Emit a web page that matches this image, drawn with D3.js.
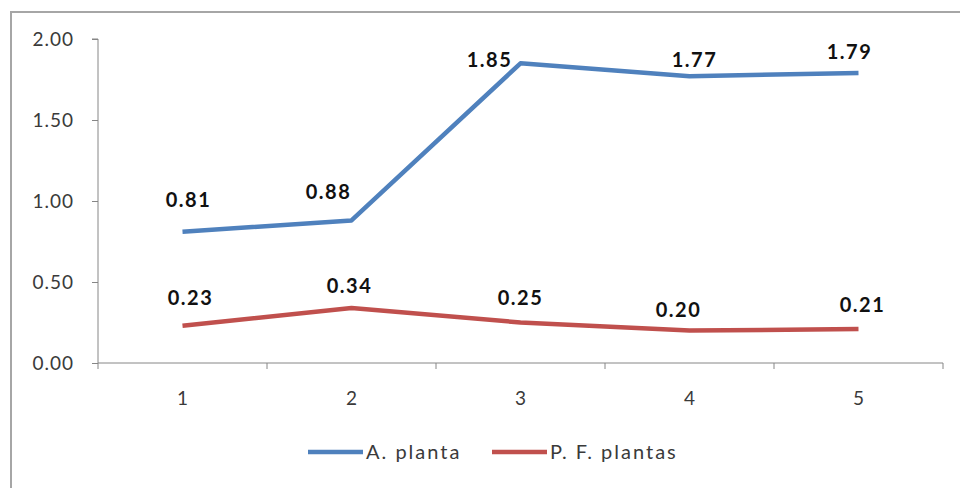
<!DOCTYPE html>
<html><head><meta charset="utf-8">
<script src="https://cdn.jsdelivr.net/npm/d3@7"></script>
<style>body{margin:0;background:#fff}svg{display:block}</style>
</head><body>
<svg id="c" width="960" height="488"></svg>
<script>
const categories = ["1","2","3","4","5"];
const aPlanta = [0.81, 0.88, 1.85, 1.77, 1.79];
const pfPlantas = [0.23, 0.34, 0.25, 0.20, 0.21];
const yTicks = [0, 0.5, 1.0, 1.5, 2.0];
const seriesNames = ["A. planta", "P. F. plantas"];
const colors = ["#4F81BD", "#C0504D"];
// label nudges (dx, dy) in px, style config
const aLabelNudge = [[6,-25],[-23,-21],[-31,4],[5,-9],[-9,-14]];
const pLabelNudge = [[8,-21],[-2,-15],[0,-18],[-11,-14],[4,-17]];

(function(){
const svg = d3.select("#c");
const font = "Lato, 'Open Sans', sans-serif";

svg.append("rect").attr("x",11).attr("y",12).attr("width",960).attr("height",490)
  .attr("fill","#fff").attr("stroke","#a6a6a6").attr("stroke-width",2);

const pLeft = 98, pRight = 943, pTop = 39, pBottom = 363;
const x = d3.scaleBand().domain(categories).range([pLeft, pRight]);
const y = d3.scaleLinear().domain([0, 2]).range([pBottom, pTop]);

// y axis
const yAxis = svg.append("g").attr("transform",`translate(${pLeft},0)`)
  .call(d3.axisLeft(y).tickValues(yTicks).tickFormat(d3.format(".2f")).tickSize(6).tickPadding(18));
yAxis.select(".domain").attr("stroke","#868686").attr("d",`M-6,${pTop}H0V${pBottom}`);
yAxis.selectAll(".tick line").attr("stroke","#868686");
yAxis.selectAll(".tick text").attr("font-family",font).attr("font-size",19)
  .attr("letter-spacing",1).attr("fill","#3a3a3a");

// x axis
const xg = svg.append("g").attr("transform",`translate(0,${pBottom})`);
xg.append("line").attr("x1",pLeft).attr("x2",pRight).attr("stroke","#868686");
const bounds = categories.map(c => x(c)).concat([pRight]);
xg.selectAll("line.t").data(bounds).join("line").attr("class","t")
  .attr("x1",d=>d).attr("x2",d=>d).attr("y1",0).attr("y2",6).attr("stroke","#868686");
xg.selectAll("text").data(categories).join("text")
  .attr("x",d=>x(d)+x.bandwidth()/2).attr("y",42).attr("text-anchor","middle")
  .attr("font-family",font).attr("font-size",19).attr("fill","#3a3a3a").text(d=>d);

const cx = (d,i) => x(categories[i]) + x.bandwidth()/2;
const line = d3.line().x(cx).y(d=>y(d));
[aPlanta, pfPlantas].forEach((s,k) => {
  svg.append("path").datum(s).attr("d",line).attr("fill","none")
    .attr("stroke",colors[k]).attr("stroke-width",4.5).attr("stroke-linejoin","round");
  const nudge = k===0 ? aLabelNudge : pLabelNudge;
  svg.append("g").selectAll("text").data(s).join("text")
    .attr("x",(d,i)=>cx(d,i)+nudge[i][0]).attr("y",(d,i)=>y(d)+nudge[i][1])
    .attr("text-anchor","middle").attr("font-family",font).attr("font-weight","bold")
    .attr("font-size",20).attr("letter-spacing",1.5).attr("fill","#111").text(d=>d.toFixed(2));
});

// legend
const lg = svg.append("g");
const legendX = [308, 492];
seriesNames.forEach((n,k) => {
  lg.append("line").attr("x1",legendX[k]).attr("x2",legendX[k]+55).attr("y1",452).attr("y2",452)
    .attr("stroke",colors[k]).attr("stroke-width",4.5);
  lg.append("text").attr("x",legendX[k]+58).attr("y",459).attr("font-family",font)
    .attr("font-size",20).attr("letter-spacing",2).attr("fill","#3a3a3a").text(n);
});
})();
</script>
</body></html>
